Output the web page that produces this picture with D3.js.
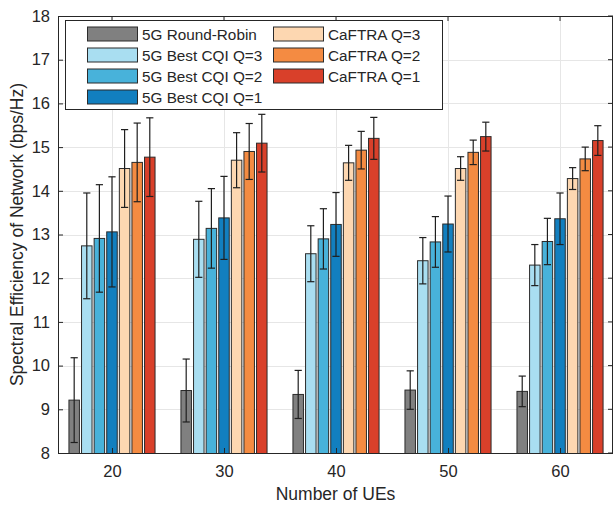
<!DOCTYPE html>
<html><head><meta charset="utf-8">
<script src="https://cdn.jsdelivr.net/npm/d3@7"></script>
<style>html,body{margin:0;padding:0;background:#fff;}svg{display:block;font-family:Arial,"Liberation Sans",Helvetica,sans-serif;}</style>
</head><body>
<svg id="chart" width="613" height="505"></svg>
<script>
const ues = [20, 30, 40, 50, 60];
const seriesNames = ["5G Round-Robin", "5G Best CQI Q=3", "5G Best CQI Q=2", "5G Best CQI Q=1", "CaFTRA Q=3", "CaFTRA Q=2", "CaFTRA Q=1"];
const seriesColors = ["#808080", "#a9def1", "#48b2da", "#127fbf", "#fdd7b1", "#f48b42", "#d9402a"];
const roundRobin = [9.21, 9.43, 9.34, 9.44, 9.41];
const roundRobinErr = [0.97, 0.72, 0.55, 0.44, 0.35];
const cqi3 = [12.74, 12.89, 12.56, 12.40, 12.30];
const cqi3Err = [1.21, 0.87, 0.64, 0.53, 0.47];
const cqi2 = [12.91, 13.14, 12.90, 12.83, 12.84];
const cqi2Err = [1.23, 0.91, 0.69, 0.58, 0.53];
const cqi1 = [13.06, 13.38, 13.23, 13.24, 13.36];
const cqi1Err = [1.26, 0.95, 0.73, 0.64, 0.59];
const caftra3 = [14.51, 14.70, 14.64, 14.51, 14.28];
const caftra3Err = [0.89, 0.63, 0.40, 0.27, 0.25];
const caftra2 = [14.65, 14.90, 14.93, 14.88, 14.73];
const caftra2Err = [0.90, 0.64, 0.43, 0.28, 0.27];
const caftra1 = [14.77, 15.09, 15.20, 15.24, 15.15];
const caftra1Err = [0.90, 0.66, 0.48, 0.33, 0.34];
const yTicks = [8, 9, 10, 11, 12, 13, 14, 15, 16, 17, 18];
const xLabel = "Number of UEs";
const yLabel = "Spectral Efficiency of Network (bps/Hz)";

const values = [roundRobin, cqi3, cqi2, cqi1, caftra3, caftra2, caftra1];
const errors = [roundRobinErr, cqi3Err, cqi2Err, cqi1Err, caftra3Err, caftra2Err, caftra1Err];

const L = 58, R = 613, T = 16, B = 453;
const svg = d3.select("#chart");
const x = d3.scaleLinear().domain([15.18, 64.73]).range([L, R]);
const y = d3.scaleLinear().domain([8, 18]).range([B, T]);
const inner = d3.scaleBand().domain(d3.range(seriesNames.length)).range([-43.05, 43.05]).paddingInner(0.167).paddingOuter(0);

const axisCol = "#262626";
const gridCol = "#e6e6e6";

svg.append("defs").append("clipPath").attr("id", "clip")
  .append("rect").attr("x", L).attr("y", T).attr("width", R - L).attr("height", B - T);

// grid
const grid = svg.append("g");
grid.selectAll("line.h").data(yTicks).join("line")
  .attr("x1", L).attr("x2", R).attr("y1", d => Math.round(y(d)) + 0.5).attr("y2", d => Math.round(y(d)) + 0.5)
  .attr("stroke", gridCol).attr("stroke-width", 1);
grid.selectAll("line.v").data(ues).join("line")
  .attr("y1", T).attr("y2", B).attr("x1", d => Math.round(x(d)) + 0.5).attr("x2", d => Math.round(x(d)) + 0.5)
  .attr("stroke", gridCol).attr("stroke-width", 1);

// bars
const barData = [];
values.forEach((arr, s) => arr.forEach((v, i) => barData.push({s, i, v, e: errors[s][i]})));
const bars = svg.append("g").attr("clip-path", "url(#clip)");
bars.selectAll("rect").data(barData).join("rect")
  .attr("x", d => x(ues[d.i]) + inner(d.s))
  .attr("width", inner.bandwidth())
  .attr("y", d => y(d.v))
  .attr("height", d => y(8) - y(d.v) + 2)
  .attr("fill", d => seriesColors[d.s])
  .attr("stroke", "#2b2b2b").attr("stroke-width", 1);

// error bars
const eb = svg.append("g").attr("stroke", "#1f1f1f").attr("stroke-width", 1.2).attr("clip-path", "url(#clip)");
const cap = 3.6;
barData.forEach(d => {
  const cx = x(ues[d.i]) + inner(d.s) + inner.bandwidth() / 2;
  eb.append("line").attr("x1", cx).attr("x2", cx).attr("y1", y(d.v + d.e)).attr("y2", y(d.v - d.e));
  eb.append("line").attr("x1", cx - cap).attr("x2", cx + cap).attr("y1", y(d.v + d.e)).attr("y2", y(d.v + d.e));
  eb.append("line").attr("x1", cx - cap).attr("x2", cx + cap).attr("y1", y(d.v - d.e)).attr("y2", y(d.v - d.e));
});

// axes
const xAxis = svg.append("g").attr("transform", `translate(0,${B})`)
  .call(d3.axisBottom(x).tickValues(ues).tickSize(-5).tickPadding(12).tickFormat(d3.format("d")));
const yAxis = svg.append("g").attr("transform", `translate(${L},0)`)
  .call(d3.axisLeft(y).tickValues(yTicks).tickSize(-5).tickPadding(8).tickFormat(d3.format("d")));
[xAxis, yAxis].forEach(g => {
  g.select(".domain").attr("stroke", axisCol);
  g.selectAll(".tick line").attr("stroke", axisCol);
  g.selectAll(".tick text").attr("fill", axisCol).style("font-size", "16.5px").style("font-family", "Arial, 'Liberation Sans', sans-serif");
});
// top and right box edges with inward ticks
const box = svg.append("g");
box.append("line").attr("x1", L).attr("x2", R).attr("y1", T + 0.5).attr("y2", T + 0.5).attr("stroke", axisCol);
box.append("line").attr("x1", R - 0.5).attr("x2", R - 0.5).attr("y1", T).attr("y2", B).attr("stroke", axisCol);
box.selectAll("line.tt").data(ues).join("line")
  .attr("x1", d => x(d)).attr("x2", d => x(d)).attr("y1", T).attr("y2", T + 5).attr("stroke", axisCol);
box.selectAll("line.rt").data(yTicks).join("line")
  .attr("x1", R - 5).attr("x2", R).attr("y1", d => y(d)).attr("y2", d => y(d)).attr("stroke", axisCol);

// axis labels
svg.append("text").attr("x", (L + R) / 2).attr("y", 500).attr("text-anchor", "middle")
  .attr("fill", axisCol).style("font-size", "17.5px").text(xLabel);
svg.append("text").attr("transform", `translate(23,${(T + B) / 2}) rotate(-90)`).attr("text-anchor", "middle")
  .attr("fill", axisCol).style("font-size", "17.5px").text(yLabel);

// legend
const lg = svg.append("g");
lg.append("rect").attr("x", 65.5).attr("y", 20.5).attr("width", 377).attr("height", 89)
  .attr("fill", "#fff").attr("stroke", axisCol).attr("stroke-width", 1);
const colX = [87, 273];
const rowY = [34, 55, 76, 97];
seriesNames.forEach((name, s) => {
  const col = s < 4 ? 0 : 1;
  const row = s < 4 ? s : s - 4;
  const gx = colX[col], gy = rowY[row];
  lg.append("rect").attr("x", gx + 0.5).attr("y", gy - 7).attr("width", 50).attr("height", 14)
    .attr("fill", seriesColors[s]).attr("stroke", "#2b2b2b").attr("stroke-width", 1);
  lg.append("text").attr("x", gx + 55).attr("y", gy).attr("dy", "0.36em")
    .attr("fill", axisCol).style("font-size", "15.3px").text(name);
});
</script>
</body></html>
